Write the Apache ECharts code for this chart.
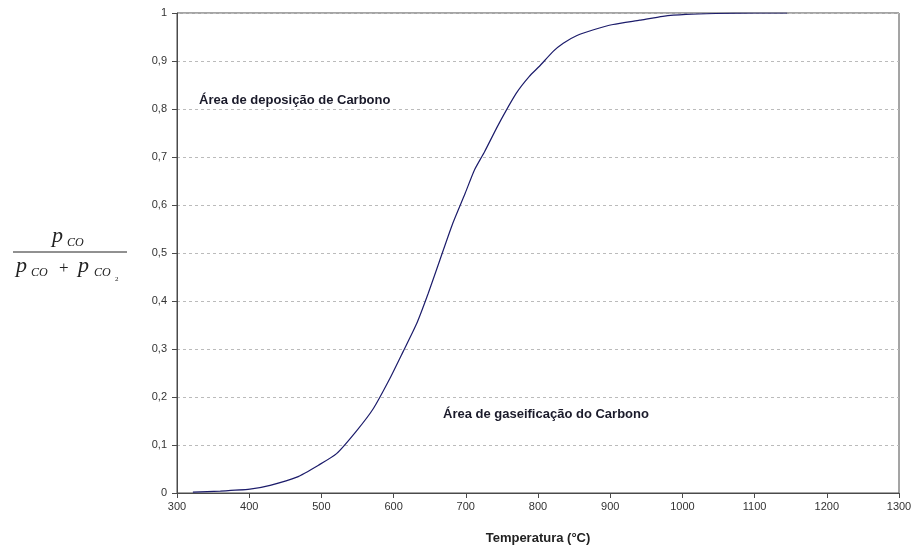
<!DOCTYPE html>
<html>
<head>
<meta charset="utf-8">
<script src="https://cdn.jsdelivr.net/npm/echarts@6/dist/echarts.min.js"></script>
<style>
  html, body { margin: 0; padding: 0; background: #ffffff; }
  #chart { width: 914px; height: 548px; }
</style>
</head>
<body>
<div id="chart"></div>
<script>
// Temperature (°C)
const temperatures = [322, 360, 401, 429, 466, 496, 521, 549, 572, 595, 613, 632, 648, 664, 682, 699, 712, 726, 745, 770, 788, 802, 821, 835, 854, 877, 904, 941, 973, 1005, 1046, 1100, 1145];
// pCO / (pCO + pCO2)
const ratios = [0.002, 0.004, 0.008, 0.016, 0.033, 0.058, 0.082, 0.13, 0.176, 0.239, 0.294, 0.353, 0.416, 0.485, 0.562, 0.624, 0.673, 0.711, 0.767, 0.833, 0.868, 0.889, 0.920, 0.937, 0.953, 0.965, 0.976, 0.985, 0.993, 0.997, 0.999, 1.0, 1.0];
const xTitle = 'Temperatura (°C)';
const annotations = ['Área de deposição de Carbono', 'Área de gaseificação do Carbono'];

const chart = echarts.init(document.getElementById('chart'));
const seriesData = temperatures.map((t, i) => [t, ratios[i]]);

const serif = '"Liberation Serif", "DejaVu Serif", serif';
const sans = '"Liberation Sans", Arial, sans-serif';

chart.setOption({
  animation: false,
  backgroundColor: '#ffffff',
  grid: { left: 177, right: 15, top: 13, bottom: 55, containLabel: false, outerBoundsMode: 'none', show: true, borderColor: '#4a4a4a', borderWidth: 1 },
  xAxis: {
    type: 'value', min: 300, max: 1300, interval: 100,
    name: xTitle, nameLocation: 'middle', nameGap: 39,
    nameTextStyle: { fontFamily: sans, fontSize: 13, fontWeight: 'bold', color: '#222' },
    axisLine: { show: true, onZero: false, lineStyle: { color: '#4a4a4a', width: 1 } },
    axisTick: { show: true, length: 5, lineStyle: { color: '#4a4a4a' } },
    axisLabel: { fontFamily: sans, fontSize: 11, color: '#333', margin: 8, formatter: v => String(v) },
    splitLine: { show: false }
  },
  yAxis: {
    type: 'value', min: 0, max: 1, interval: 0.1,
    axisLine: { show: true, lineStyle: { color: '#4a4a4a', width: 1 } },
    axisTick: { show: true, length: 5, lineStyle: { color: '#4a4a4a' } },
    axisLabel: {
      fontFamily: sans, fontSize: 11, color: '#333', margin: 10,
      formatter: v => (Math.round(v * 10) / 10).toString().replace('.', ',')
    },
    splitLine: { show: true, lineStyle: { color: '#bbb', type: [3, 3], width: 1 } }
  },
  series: [{
    type: 'line', data: seriesData, showSymbol: false,
    smooth: 0.2,
    lineStyle: { color: '#1c1c6b', width: 1.2 }
  }],
  graphic: [
    { type: 'text', left: 199, top: 94, style: { text: annotations[0], font: 'bold 13px ' + sans, fill: '#1a1a2a' } },
    { type: 'text', left: 443, top: 408, style: { text: annotations[1], font: 'bold 13px ' + sans, fill: '#1a1a2a' } },
    // y-axis fraction label
    { type: 'text', left: 52, top: 225, style: { text: 'p', font: 'italic 22px ' + serif, fill: '#222' } },
    { type: 'text', left: 67, top: 237, style: { text: 'CO', font: 'italic 12px ' + serif, fill: '#222' } },
    { type: 'line', shape: { x1: 13, y1: 252, x2: 127, y2: 252 }, style: { stroke: '#222', lineWidth: 1 } },
    { type: 'text', left: 16, top: 255, style: { text: 'p', font: 'italic 22px ' + serif, fill: '#222' } },
    { type: 'text', left: 31, top: 267, style: { text: 'CO', font: 'italic 12px ' + serif, fill: '#222' } },
    { type: 'text', left: 59, top: 260, style: { text: '+', font: '17px ' + serif, fill: '#222' } },
    { type: 'text', left: 78, top: 255, style: { text: 'p', font: 'italic 22px ' + serif, fill: '#222' } },
    { type: 'text', left: 94, top: 267, style: { text: 'CO', font: 'italic 12px ' + serif, fill: '#222' } },
    { type: 'text', left: 115, top: 276, style: { text: '2', font: '7px ' + serif, fill: '#222' } }
  ]
});
</script>
</body>
</html>
